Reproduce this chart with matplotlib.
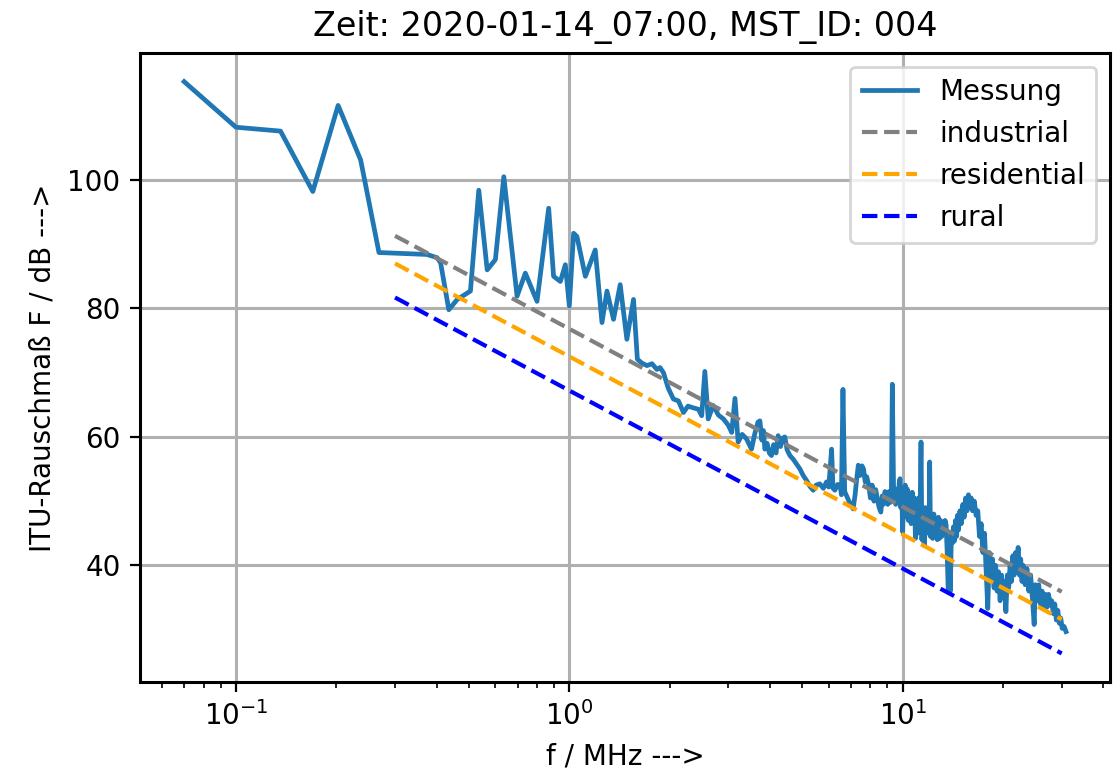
import matplotlib
matplotlib.use("Agg")
import matplotlib.pyplot as plt

# measured noise figure (MST_ID 004, 2020-01-14 07:00)
freq_mhz = [
    0.0699, 0.1, 0.136, 0.170, 0.2025, 0.2366, 0.2685, 0.30, 0.374, 0.401, 0.411,
    0.435, 0.461, 0.494, 0.505, 0.535, 0.567, 0.60, 0.636, 0.697, 0.738, 0.80,
    0.867, 0.897, 0.94, 0.973, 1.0, 1.03, 1.054, 1.117, 1.196, 1.253, 1.297,
    1.357, 1.421, 1.488, 1.558, 1.60, 1.65, 1.709, 1.77, 1.831, 1.87, 1.916, 1.98,
    2.052, 2.125, 2.2, 2.27, 2.33, 2.44, 2.495, 2.55, 2.61, 2.70, 2.8, 2.9,
    3.0, 3.07, 3.14, 3.21, 3.30, 3.40, 3.52, 3.60, 3.68,
    3.73, 3.78, 3.82, 3.86, 3.92, 3.98, 4.04, 4.10, 4.17, 4.23, 4.30, 4.36,
    4.43, 4.50, 4.59, 4.70, 4.80, 4.92, 5.03, 5.15, 5.27, 5.39, 5.50, 5.64,
    5.78, 5.91, 6.00, 6.12, 6.18, 6.26, 6.38, 6.49, 6.55, 6.62, 6.70, 6.78,
    6.90, 7.00, 7.10, 7.20, 7.28, 7.36, 7.45, 7.55, 7.63, 7.72, 7.80, 7.91,
    8.00, 8.10, 8.20, 8.30, 8.39, 8.50, 8.60, 8.68, 8.75, 8.85, 8.93, 9.02,
    9.10, 9.18, 9.25, 9.31, 9.40, 9.46, 9.53, 9.60, 9.70, 9.76,
    9.82, 9.87, 9.93, 10.0, 10.06, 10.12, 10.18, 10.24, 10.32, 10.40, 10.5,
    10.6, 10.68, 10.76, 10.85, 10.92, 11.0, 11.08, 11.17, 11.26, 11.35, 11.42,
    11.5, 11.6, 11.7, 11.8, 11.9, 12.0, 12.05, 12.12, 12.2, 12.3, 12.4, 12.5,
    12.6, 12.7, 12.8, 12.9, 13.0, 13.1, 13.2, 13.3, 13.4, 13.5, 13.6, 13.7,
    13.8, 13.9, 14.0, 14.1, 14.2, 14.3, 14.4, 14.5, 14.6, 14.7, 14.85, 15.0,
    15.15, 15.3, 15.45, 15.6, 15.75, 15.9, 16.05, 16.2, 16.4, 16.6, 16.8, 17.0,
    17.2, 17.4, 17.6, 17.8, 18.0, 18.2, 18.4, 18.6, 18.8, 19.0, 19.2, 19.4,
    19.6, 19.8, 20.0, 20.2, 20.4, 20.6, 20.8, 21.0, 21.2, 21.4, 21.6, 21.8,
    22.0, 22.2, 22.4, 22.6, 22.8, 23.0, 23.3, 23.6, 23.9, 24.2, 24.5, 24.8,
    25.0, 25.3, 25.6, 25.9, 26.2, 26.5, 26.8, 27.1, 27.4, 27.7, 28.0, 28.3,
    28.6, 28.9, 29.2, 29.5, 29.8, 30.1, 30.5, 30.9,
]
level_db = [
    115.3, 108.2, 107.6, 98.2, 111.6, 103.1, 88.7, 88.6, 88.4, 87.9, 87.1,
    79.8, 81.4, 82.4, 82.7, 98.4, 86.0, 87.6, 100.5, 81.9, 85.5, 81.1,
    95.6, 85.0, 84.2, 86.8, 80.4, 91.7, 91.2, 85.0, 89.1, 77.8, 82.7,
    78.3, 83.7, 75.2, 81.4, 72.1, 71.5, 71.1, 71.4, 70.5, 70.8, 70.0, 67.6,
    65.9, 65.6, 63.8, 64.8, 64.6, 64.3, 63.3, 70.2, 62.8, 64.9, 63.4, 62.8,
    61.8, 60.7, 66.0, 59.2, 60.4, 59.7, 58.1, 60.5, 62.3,
    62.5, 59.5, 61.0, 58.1, 59.0, 57.5, 57.1, 58.8, 57.5, 60.2, 58.5, 59.8,
    60.0, 58.0, 57.1, 56.5, 55.8, 55.0, 54.0, 53.2, 52.3, 51.7, 52.5, 52.7,
    52.0, 53.0, 52.2, 58.1, 52.0, 51.7, 52.6, 52.5, 51.0, 67.4, 51.5, 50.9,
    50.0, 49.5, 48.8, 51.0, 53.5, 55.6, 54.0, 55.5, 55.0, 53.0, 53.8, 52.5,
    50.5, 52.5, 50.0, 51.8, 50.4, 49.0, 48.3, 50.8, 49.5, 51.5, 50.9, 49.5,
    51.5, 49.8, 51.5, 68.2, 50.0, 52.0, 49.5, 51.8, 49.8, 52.8,
    53.5, 49.0, 52.0, 45.2, 51.0, 47.5, 52.5, 49.0, 51.9, 47.0, 50.5,
    46.5, 51.4, 47.5, 50.5, 44.2, 49.5, 45.0, 50.5, 46.0, 59.2, 44.0,
    48.5, 43.1, 49.0, 45.0, 48.0, 45.5, 56.1, 44.5, 47.5, 44.2, 48.0, 44.5,
    47.0, 44.0, 47.5, 44.2, 47.0, 44.5, 46.5, 45.0, 47.0, 46.3, 42.0, 35.8,
    44.0, 36.0, 45.0, 43.5, 46.0, 43.8, 47.0, 44.5, 47.8, 45.5, 48.5, 46.5,
    49.5, 47.5, 50.5, 48.5, 51.0, 49.0, 50.5, 48.5, 50.0, 47.8, 48.5, 44.5,
    46.5, 42.0, 45.0, 39.0, 33.3, 42.0, 37.5, 41.0, 36.5, 40.0, 36.0, 39.0,
    34.5, 38.5, 35.0, 37.5, 32.8, 38.5, 36.5, 40.0, 37.5, 41.5, 38.5, 42.0,
    39.0, 42.8, 38.5, 41.0, 37.5, 40.0, 37.0, 39.5, 36.0, 38.5, 34.9, 30.8,
    37.0, 34.5, 37.0, 34.0, 36.0, 33.5, 35.5, 33.5, 35.5, 33.8, 34.5, 32.5,
    34.0, 31.5, 33.0, 31.0, 31.8, 30.2, 30.5, 29.7,
]

# ITU-R P.372 man-made noise reference lines (straight in log f)
itu_freq = [0.3, 30.0]
itu_industrial = [91.3, 35.9]
itu_residential = [87.0, 31.6]
itu_rural = [81.7, 26.3]

fig = plt.figure(figsize=(5.575, 3.9), dpi=200)
ax = fig.add_axes([0.1256, 0.1256, 0.8700, 0.8064])

ax.semilogx(freq_mhz, level_db, color="tab:blue", lw=1.7, label="Messung")
ax.semilogx(itu_freq, itu_industrial, "--", color="grey", lw=1.5, label="industrial")
ax.semilogx(itu_freq, itu_residential, "--", color="orange", lw=1.5, label="residential")
ax.semilogx(itu_freq, itu_rural, "--", color="blue", lw=1.5, label="rural")

ax.grid(True, which="major", lw=1.1)
ax.set_yticks([40, 60, 80, 100])
ax.set_title("Zeit: 2020-01-14_07:00, MST_ID: 004", fontsize=12)
ax.set_xlabel("f / MHz --->")
ax.set_ylabel("ITU-Rauschmaß F / dB --->")
ax.legend(loc="upper right")
for s in ax.spines.values():
    s.set_linewidth(1.1)

fig.savefig("out.png", dpi=200)
